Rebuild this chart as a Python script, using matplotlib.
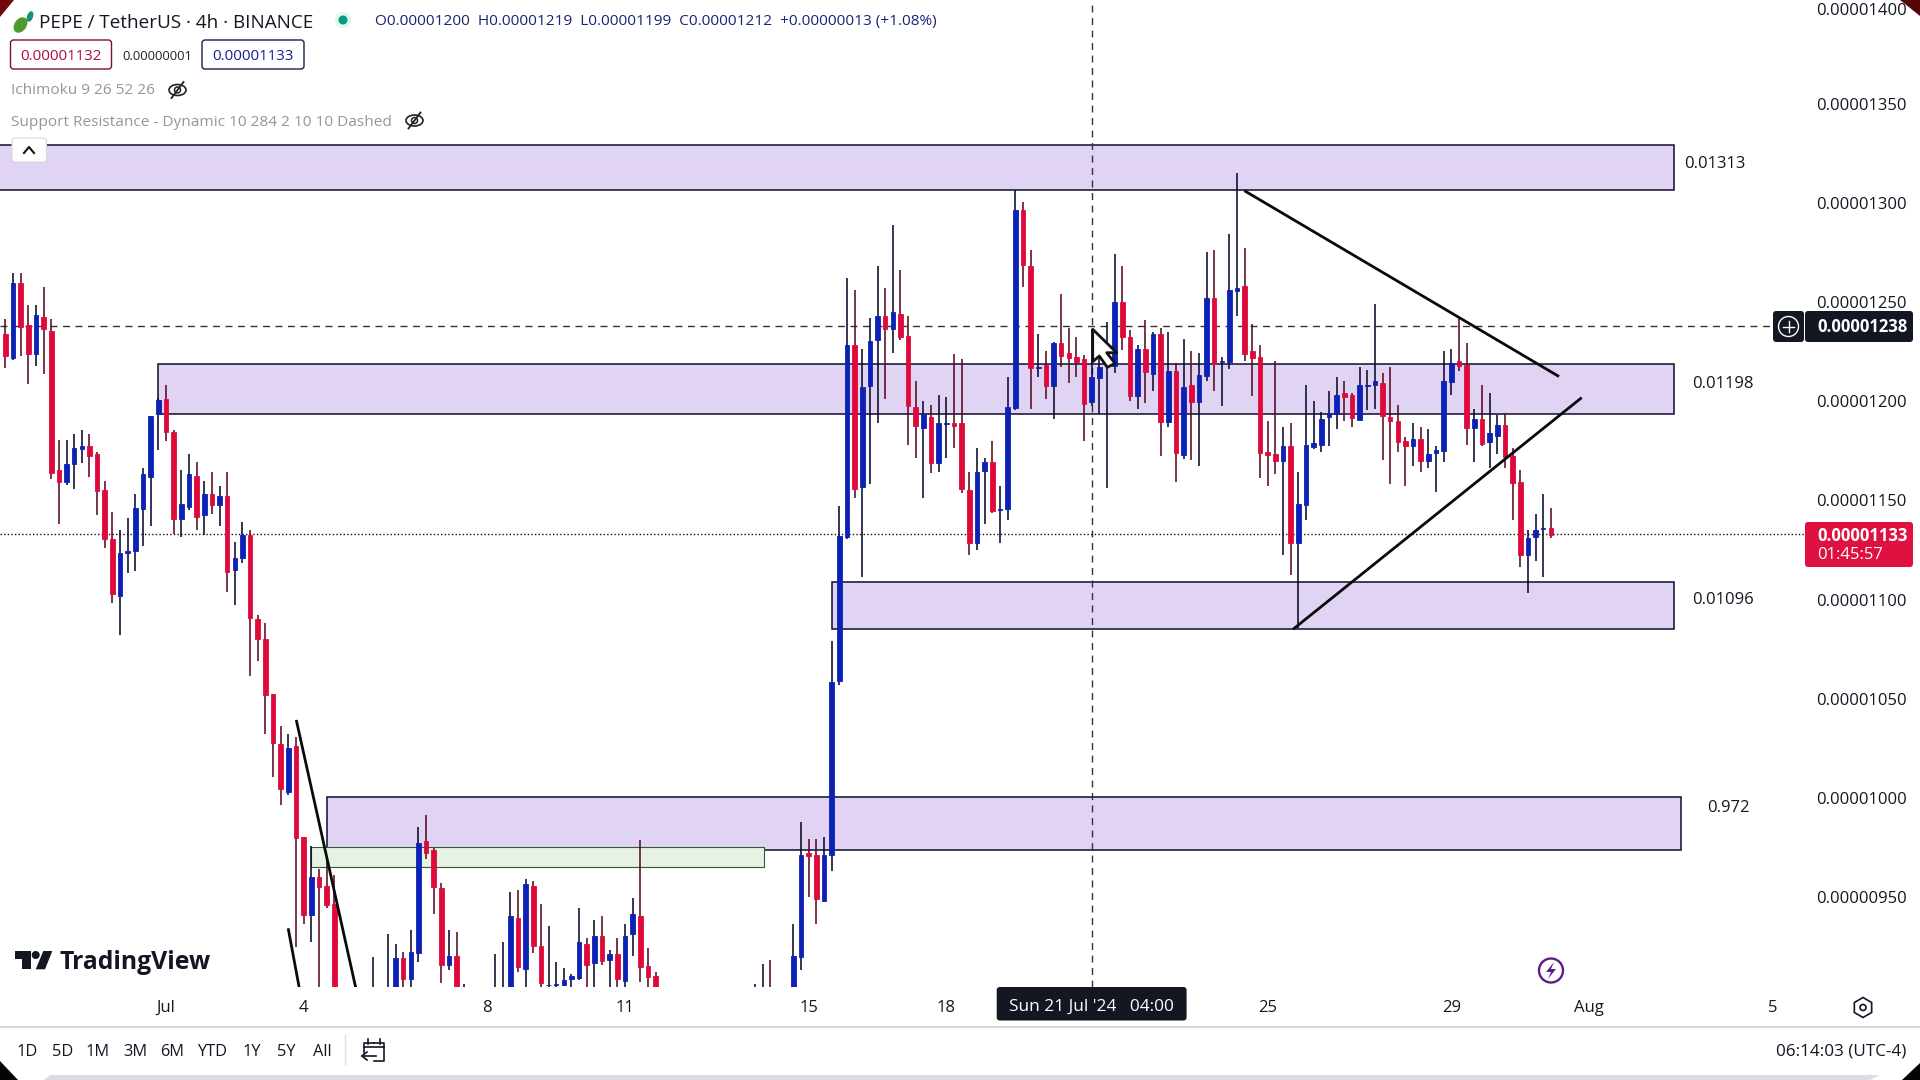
import matplotlib
matplotlib.use("Agg")
import matplotlib.pyplot as plt
import numpy as np
from matplotlib.patches import Rectangle, Polygon, Circle, Ellipse, FancyBboxPatch, RegularPolygon
from matplotlib.transforms import ScaledTranslation

plt.rcParams['font.family'] = ['Open Sans', 'DejaVu Sans']

# ---- data: prices in units of 0.00000001 ----
highs = [1241,1264,1264,1248,1248,1257,1241,1180,1180,1183,1185,1183,1174,1159,1143.4,1134.5,1140.5,1152.6,1165.7,1192,
 1201,1207.6,1185,1164.7,1172.6,1168.8,1159,1163.5,1156.7,1163.5,1128.4,1138.5,1134.5,1091.6,1087.4,1052,1035.7,1031.6,1030,979.5,
 975,963.6,968,960.4,897,890,895,900,919,895,931,925.8,921.8,932.9,984.9,991,974,956.4,932.9,931.9,
 905.6,898,896,898,920.9,926.8,952,953,958.4,957.4,945.8,934.9,916.7,913.7,910.7,943.8,928.8,937.9,939.9,922.8,
 928.8,935.9,949,978.2,923.8,911.7,900,895,892,896,897,895,893,896,898,897,899,900,905.6,915.7,
 917.7,900,902,935.9,987.3,978.9,978.9,979.9,1078.4,1146.6,1261.5,1255.4,1225.7,1241.3,1267.5,1256.4,1288,1265.5,1242.3,1209.7,
 1199.5,1197.6,1202.5,1201.5,1223.2,1220.6,1163.5,1175.6,1170.6,1179.2,1156.6,1211.6,1305.8,1300,1275.6,1233.2,1224.7,1229.2,1253.4,1236.3,
 1231.9,1222.7,1236,1222,1239.3,1273.6,1267.5,1235.3,1227.5,1240.3,1234.3,1236.1,1234.3,1218.5,1230.7,1224.7,1223.7,1274.6,1275.6,1221.8,
 1283.6,1314.2,1276.6,1238.3,1227.7,1189.4,1219.6,1186.5,1188.2,1163.5,1207.5,1199.5,1194.1,1204.7,1211.6,1209.6,1203.3,1216.8,1215.1,1248.4,
 1213.4,1216.8,1197.5,1181.5,1188.2,1186.2,1185.4,1176.8,1224.7,1225.7,1241.1,1228.7,1195.4,1207.5,1203.5,1192.4,1193.3,1175.6,1164.7,1134.5,
 1142.5,1152.6,1145.5]
body_tops = [1233,1259,1259,1238,1243,1242,1235,1164.6,1167.6,1175.6,1177,1177,1172.6,1154.5,1130,1123,1124,1145.4,1162.5,1192,
 1200,1200.3,1184,1147.4,1162.5,1161.5,1152.5,1152.5,1151.4,1151.4,1120.5,1132,1132,1089.4,1079.4,1051.6,1026.4,1024.4,1025.4,979.5,
 959.4,959.4,954.9,945.8,895,885,885,890,893,890,898,918.6,918.6,921.6,976.5,977.6,973,953.9,919.6,919.6,
 900,895,890,892,900,902,939.8,938.7,955.9,954.9,924.6,905.2,905.4,907.5,909.5,926.6,925.6,929.7,929.7,920.6,
 920.6,929.7,940.7,939.8,914.6,909.7,896,890,888,890,892,889,888,890,892,893,890,892,895,898,
 897,896,895,919.6,970.5,971.5,970.5,970.5,1057.9,1131.4,1227.7,1227.7,1206.5,1229.5,1242.3,1242.3,1244.2,1243.2,1232,1196.3,
 1192.8,1191.2,1188.2,1188.2,1188.2,1188.2,1154.5,1163.5,1168.6,1168.6,1145.2,1196.3,1296,1296,1267.5,1216.5,1217.6,1228.7,1228.7,1223.7,
 1221.6,1220.6,1211.6,1216.6,1219,1249.4,1249.4,1231.6,1225.7,1225.7,1233.2,1233.2,1214.6,1214.6,1206.5,1207.5,1212.6,1251.4,1251.4,1219.4,
 1255.4,1256.4,1257.4,1224.7,1221.6,1173.8,1172.6,1176.8,1176.8,1147.6,1177.1,1178.1,1190.2,1193.3,1202.3,1203.3,1202.3,1207.5,1207.5,1209.4,
 1208.4,1191.2,1189.2,1179.1,1180.2,1180.2,1172.6,1174.8,1209.6,1218.5,1219.6,1217.6,1190.2,1190.2,1183.2,1187.2,1187.2,1171.6,1158.5,1130.3,
 1134.3,1135.3,1135.3]
body_bottoms = [1222,1221,1237,1223,1223,1236,1163.4,1158.5,1158.5,1167.6,1175.5,1172,1154,1130,1102,1101,1123,1124,1145,1161.4,
 1193,1184,1140,1140,1146,1141,1142,1147,1147,1113.5,1114.5,1120.5,1090.3,1079.4,1051.5,1027.3,1003.8,1002.6,979.4,940.6,
 940.6,954.7,945.6,895,885,876,876,880,888,880,885,895,908.3,908.3,921.4,971.5,954.7,915.4,915.4,895,
 895,888,885,886,892,895,895,914.4,913.4,924.6,906.3,905,905.2,905.3,908.3,908.5,915.4,916.4,917.4,917.6,
 908.3,907.3,930.7,914.4,909.3,898,890,884,882,885,887,884,880,884,888,886,885,887,889,892,
 890,888,887,890,919.4,970.3,948.6,947.6,970.5,1058.5,1131.1,1155.3,1156.3,1207.2,1230.4,1235.9,1235.9,1231.9,1197.1,1187,
 1186,1168.4,1168.4,1187.8,1187,1155.3,1128.1,1128.1,1164.4,1144,1144.7,1145.2,1196,1268.2,1216.3,1216,1207.2,1207.2,1222.3,1221.3,
 1219.1,1198.1,1199,1211,1217,1217.1,1231.9,1201.8,1202.2,1214.3,1213.2,1189,1189,1173.3,1172.3,1199.1,1199.1,1212.1,1218.1,1219,
 1219.3,1255.1,1223.2,1221.1,1173.3,1172.3,1169.2,1169.2,1128.1,1128.1,1147.2,1176.5,1177.1,1191.2,1192.9,1201.3,1191.1,1190,1207.2,1207.4,
 1192.1,1189.2,1179,1177,1177,1169.4,1169.4,1173.4,1174.4,1209.2,1217.3,1186,1186,1177.8,1179,1182,1171.4,1158.3,1122,1122,
 1131.1,1135,1132.1]
lows = [1216,1220,1222,1208,1217,1213,1160,1137.5,1157,1155,1168,1161,1142,1125.6,1097.7,1081.5,1113,1114,1126.6,1136.5,
 1175,1179.3,1132.5,1130.8,1144.7,1134.6,1132,1142.5,1136.5,1103,1096.5,1118,1060.9,1068.6,1031.6,1010,996,1001,924.1,935.9,
 926.8,900,944,880,880,870,870,872,880,875,880,885,900,900,916.9,968.8,940.9,906,912.7,890,
 890,884,880,880,888,890,888,911.9,900,921.1,900,900,901,904.6,902,907.7,900,900,915,900,
 900,900,919.8,906.8,900,895,885,880,876,880,882,878,875,880,882,881,880,882,884,886,
 884,883,882,885,912.7,949.3,935.9,947.2,962.8,1056.3,1130,1150.8,1111,1157.6,1188.6,1200.3,1223.8,1230,1177.3,1170.7,
 1150.8,1163,1163.9,1170.7,1176,1152.9,1121.9,1124.4,1137.5,1142.9,1127.7,1139.5,1195,1256.8,1195.4,1211.4,1200.3,1190.6,1216.8,1208.4,
 1211.7,1179.5,1197,1192.8,1155.8,1213.4,1225.2,1199.6,1195.4,1198.6,1204.7,1172,1186.2,1158.7,1170.1,1169.7,1166.9,1209.6,1204.5,1197,
 1215.6,1242.3,1219.6,1202,1160.5,1156.6,1162.7,1121.9,1111.8,1085,1139.5,1175.1,1173.9,1176.8,1185.4,1189.6,1186.4,1189.9,1195,1195.4,
 1169.7,1157.6,1173.9,1156.6,1166.9,1163.9,1165.9,1153.8,1168.6,1202.5,1214.6,1177.3,1168.6,1176.8,1165.9,1172.8,1165.9,1139.5,1116,1102.9,
 1119,1111,1130.4]

# direction of every candle, B = rising (blue), R = falling (red)
directions = list("RBRRBRRRBBBRRRRBBBBB"   # 0-19
                  "BRRBBRBRBRBBRRRRRBRR"   # 20-39
                  "BRRRRRBBBRBBRBBRRRBR"   # 40-59
                  "BRBBBBBRBRRBBBBBRBRB"   # 60-79
                  "RBBRRRRRBBRRBBBRRBBB"   # 80-99
                  "RRBBBRRBBBBRBBBRBRRR"   # 100-119
                  "BRBBRRRBBRBBBRRBRBRR"   # 120-139
                  "RRBBBBRRBRBRBRBRBBRB"   # 140-159
                  "BBRRRRRBRBBBBBBRRBBB"   # 160-179
                  "RRRRBRBBBBRRBRBBRRRB"   # 180-199
                  "BBR")                   # 200-202

opens = [b if d == "B" else t for t, b, d in zip(body_tops, body_bottoms, directions)]
closes = [t if d == "B" else b for t, b, d in zip(body_tops, body_bottoms, directions)]

y_tick_values = [950, 1000, 1050, 1100, 1150, 1200, 1250, 1300, 1350, 1400]
x_tick_positions = [21, 39, 63, 81, 105, 123, 165, 189, 207, 231]
x_tick_labels = ["Jul", "4", "8", "11", "15", "18", "25", "29", "Aug", "5"]

# zones: left candle, right candle, bottom price, top price, label
zone_left = [-5, 19.96, 108.09, 42.09]
zone_right = [218.06, 218.06, 218.06, 219.06]
zone_low = [1305.8, 1192.8, 1084.4, 973.2]
zone_high = [1328.5, 1217.9, 1108.1, 1000.0]
zone_labels = ["0.01313", "0.01198", "0.01096", "0.972"]
green_zone = (39.98, 99.1, 964.8, 974.5)

# trend lines: x in candles, y in price
trend_a = ([161.94, 203.07], [1305.5, 1211.8])
trend_b = ([168.3, 206.04], [1084.4, 1201.2])
trend_c = ([38.03, 45.9], [1038.7, 902.0])
trend_d = ([36.97, 38.5], [933.7, 902.0])

cross_x = 142.07
cross_price = 1237.5
last_price = 1132.3

S = 1e-8
BLUE = '#0B22B4'
RED = '#DF0A3C'
INK = '#131722'

fig = plt.figure(figsize=(19.2, 10.8), dpi=100, facecolor='white')
AX_R = 1806
AX_B = 987
ax = fig.add_axes([0, 1 - AX_B / 1080, AX_R / 1920, AX_B / 1080])
ax.set_xlim(-0.693, 235.35)
ax.set_ylim(904.1 * S, 1401.6 * S)
for s in ax.spines.values():
    s.set_visible(False)

# zones
for l, r, lo, hi in zip(zone_left, zone_right, zone_low, zone_high):
    ax.add_patch(Rectangle((l, lo * S), r - l, (hi - lo) * S, facecolor='#E0D3F4',
                           edgecolor='#0d0d2a', linewidth=1.1, zorder=1))
gl, gr, glo, ghi = green_zone
ax.add_patch(Rectangle((gl, glo * S), gr - gl, (ghi - glo) * S, facecolor='#E6F3E4',
                       edgecolor='#2f5a3a', linewidth=0.8, zorder=1.5))

# crosshair + last price lines
ax.plot([-0.693, 231], [cross_price * S] * 2, color='#333', lw=1, dashes=(5, 4), zorder=2)
ax.plot([cross_x, cross_x], [904.1 * S, 1401.6 * S], color='#333', lw=1, dashes=(5, 4), zorder=2)
ax.axhline(last_price * S, color='#111', lw=1, dashes=(1, 1.6), zorder=2)

# candles
x = np.arange(len(highs))
H, L, O, C = [np.array(v, float) * S for v in (highs, lows, opens, closes)]
cols = np.array([BLUE if d == "B" else RED for d in directions])
wick = np.array(['#0a0a2c' if d == "B" else '#5a0a22' for d in directions])
ax.vlines(x, L, H, colors=wick, linewidth=1.15, zorder=3)
ax.bar(x, np.abs(C - O), bottom=np.minimum(O, C), width=0.6, color=cols,
       edgecolor=cols, linewidth=0.6, zorder=3.2)

# trend lines
for tx, ty in (trend_a, trend_b, trend_c, trend_d):
    ax.plot(tx, np.array(ty) * S, color='#0a0a0a', lw=2, zorder=4, solid_capstyle='butt')

# axes ticks
ax.yaxis.tick_right()
ax.set_yticks(np.array(y_tick_values) * S)
ax.set_yticklabels([f"{v * 1e-8:.8f}" for v in y_tick_values], fontsize=12, color=INK)
ax.set_xticks(x_tick_positions)
ax.set_xticklabels(x_tick_labels, fontsize=12, color=INK)
ax.tick_params(axis='both', length=0)
ax.tick_params(axis='y', pad=7)
ax.tick_params(axis='x', pad=9)
for value, lab in zip(y_tick_values, ax.get_yticklabels()):
    drop = 6.0 if value == 1400 else 1.2   # pixels downward
    lab.set_transform(lab.get_transform() + ScaledTranslation(0, -drop / 100, fig.dpi_scale_trans))

# ---- interface layer in figure pixels ----
ui = fig.add_axes([0, 0, 1, 1], zorder=10)
ui.set_xlim(0, 1920)
ui.set_ylim(1080, 0)
ui.axis('off')
ui.patch.set_alpha(0)


def T(px, py, s, size=12, color=INK, ha='left', va='center', **kw):
    return ui.text(px, py + 2, s, fontsize=size, color=color, ha=ha, va=va, **kw)


def box(x0, y0, x1, y1, fc, ec='none', lw=1, r=3, z=5):
    ui.add_patch(FancyBboxPatch((x0 + r, y0 + r), x1 - x0 - 2 * r, y1 - y0 - 2 * r,
                                boxstyle=f"round,pad={r},rounding_size={r}",
                                fc=fc, ec=ec, lw=lw, zorder=z))


# corners and bottom strip
ui.add_patch(Polygon([(44, 1080), (50, 1075), (1880, 1075), (1870, 1080)], fc='#DCDCE8', ec='none'))
ui.add_patch(Polygon([(0, 0), (14, 0), (0, 17)], fc='#6E0A0A', ec='none'))
ui.add_patch(Polygon([(1900, 0), (1920, 0), (1920, 16)], fc='#560505', ec='none'))
ui.add_patch(Polygon([(0, 1061), (18, 1080), (0, 1080)], fc='#050505', ec='none'))
ui.add_patch(Polygon([(1902, 1080), (1920, 1063), (1920, 1080)], fc='#050505', ec='none'))

# title row
ui.add_patch(Ellipse((20.5, 25), 12, 17, angle=35, fc='#4E9A2E', ec='none'))
ui.add_patch(Ellipse((30, 16.5), 6, 11, angle=20, fc='#1B8F7A', ec='none'))
T(39, 20.5, "PEPE / TetherUS · 4h · BINANCE", size=13.6)
ui.add_patch(Circle((343, 20), 8, fc='#DFF3EF', ec='none'))
ui.add_patch(Circle((343, 20), 4.5, fc='#089981', ec='none'))
T(375, 20, "O0.00001200  H0.00001219  L0.00001199  C0.00001212  +0.00000013 (+1.08%)",
  size=11.1, color='#1A2378')

# order boxes
box(10.5, 40, 111.5, 69, 'white', ec='#7a1030', lw=1)
T(61, 54, "0.00001132", size=10.8, color='#B00A3C', ha='center', zorder=6)
T(157, 54, "0.00000001", size=9.4, color='#222', ha='center')
box(202, 40, 304, 69, 'white', ec='#15204a', lw=1)
T(253, 54, "0.00001133", size=10.8, color='#10218A', ha='center', zorder=6)


def eye(px, py):
    ui.add_patch(Ellipse((px, py), 17, 11, fc='none', ec='#222', lw=1.2))
    ui.add_patch(Circle((px, py), 3, fc='none', ec='#222', lw=1.1))
    ui.plot([px - 6, px + 6], [py + 8, py - 8], color='#222', lw=1.3)


T(11, 89, "Ichimoku 9 26 52 26", size=11.1, color='#93969F')
eye(177.5, 90)
T(11, 120, "Support Resistance - Dynamic 10 284 2 10 10 Dashed", size=11.1, color='#93969F')
eye(414.5, 120.5)

box(12, 138, 46.5, 162, 'white', ec='#d8d8de', lw=0.8)
ui.plot([24, 29, 34], [153, 147, 153], color='#111', lw=1.5, zorder=6)

# zone labels
T(1684, 162.5, zone_labels[0])
T(1692.3, 382.5, zone_labels[1])
T(1692.3, 597.5, zone_labels[2])
T(1707, 806, zone_labels[3])

# price tags
box(1773, 311, 1804, 342, INK)
ui.add_patch(Circle((1788.5, 326.5), 10, fc='none', ec='white', lw=1, zorder=6))
ui.plot([1783, 1794], [326.5, 326.5], color='white', lw=1, zorder=6)
ui.plot([1788.5, 1788.5], [321, 332], color='white', lw=1, zorder=6)
box(1805, 311, 1913, 342, INK)
T(1817, 325.5, "0.00001238", size=12, color='white', fontweight='bold', zorder=6)
box(1805, 522, 1913, 567, '#DF1140')
T(1817, 534, "0.00001133", size=12, color='white', fontweight='bold', zorder=6)
T(1817, 553, "01:45:57", size=12, color='white', zorder=6)

# cursor
ui.add_patch(Polygon([(1092.7, 329.3), (1092.7, 361.7), (1099.3, 356), (1107.3, 367.3),
                      (1115, 363.3), (1106.7, 352.7), (1116.7, 352.7)],
                     fc='white', ec='#111', lw=2, joinstyle='round', zorder=7))

# TradingView mark
ui.add_patch(Polygon([(15, 951), (30.7, 951), (30.7, 969.3), (21.7, 969.3), (21.7, 959.3), (15, 959.3)],
                     fc=INK, ec='none'))
ui.add_patch(Circle((35.7, 955), 4, fc=INK, ec='none'))
ui.add_patch(Polygon([(52.3, 951), (43.3, 951), (35.7, 969.3), (45, 969.3)], fc=INK, ec='none'))
T(60, 960.5, "TradingView", size=17.8, fontweight='bold')

# date tag, bottom controls
box(996.7, 987, 1186.6, 1020.5, INK)
T(1091.5, 1004.5, "Sun 21 Jul '24   04:00", size=12.4, color='white', ha='center', zorder=6)
ui.plot([0, 1920], [1026.7, 1026.7], color='#CFCFCF', lw=1.2)
ui.plot([345, 345], [1035, 1064], color='#E0E0E0', lw=1)

ranges = ["1D", "5D", "1M", "3M", "6M", "YTD", "1Y", "5Y", "All"]
range_x = [27.5, 62.5, 98, 135, 172, 212.5, 252, 286.6, 322]
for rx, r in zip(range_x, ranges):
    T(rx, 1049.5, r, size=11.8, ha='center')

# calendar icon
ui.plot([374, 363.5, 363.5], [1043, 1043, 1053], color=INK, lw=1.2)
ui.plot([374, 384, 384, 374], [1043, 1043, 1061, 1061], color=INK, lw=1.2)
ui.plot([363.5, 384], [1047, 1047], color=INK, lw=1.2)
ui.plot([368, 368], [1039, 1044], color=INK, lw=1.2)
ui.plot([380, 380], [1039, 1044], color=INK, lw=1.2)
ui.plot([362, 376], [1056, 1056], color=INK, lw=1.2)
ui.plot([367, 362, 367], [1052, 1056, 1060], color=INK, lw=1.2)

T(1906, 1049.5, "06:14:03 (UTC-4)", size=12.3, ha='right')

# settings hexagon
ui.add_patch(RegularPolygon((1863, 1007.5), 6, radius=10, orientation=0, fc='none', ec=INK, lw=1.2))
ui.add_patch(Circle((1863, 1007.5), 3, fc='none', ec=INK, lw=1.2))

# bolt
ui.add_patch(Circle((1551, 970.5), 12, fc='white', ec='#5A1E82', lw=1.7))
ui.add_patch(Polygon([(1554, 962), (1546, 972), (1551, 972), (1548, 979), (1556, 969), (1551, 969)],
                     fc='#5A1E82', ec='none'))

fig.savefig("out.png", dpi=100, facecolor='white')
